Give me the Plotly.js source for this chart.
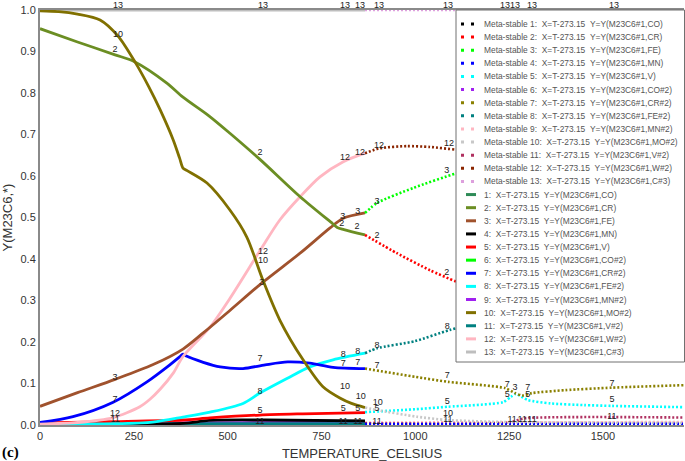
<!DOCTYPE html>
<html>
<head>
<meta charset="utf-8">
<script src="https://cdn.plot.ly/plotly-3.0.1.min.js"></script>
<style>html,body{margin:0;padding:0;background:#fff;}#chart{width:685px;height:461px;}</style>
</head>
<body>
<div id="chart"></div>
<script>
// ---------- Stable (solid) series: temperature (C) and site fraction ----------
const tCO  = [0, 400, 866];
const yCO  = [0.001, 0.002, 0.002];
const tCR  = [0, 100, 200, 253, 338, 381, 450, 506, 586, 693, 780, 792, 810, 866];
const yCR  = [0.955, 0.923, 0.892, 0.875, 0.824, 0.790, 0.745, 0.703, 0.640, 0.550, 0.485, 0.476, 0.471, 0.458];
const tFE  = [0, 100, 200, 300, 381, 435, 506, 591, 693, 773, 808, 866];
const yFE  = [0.045, 0.078, 0.110, 0.145, 0.183, 0.222, 0.276, 0.342, 0.414, 0.475, 0.498, 0.511];
const tMN  = [0, 381, 450, 600, 866];
const yMN  = [0.002, 0.004, 0.011, 0.012, 0.010];
const tV   = [0, 200, 381, 453, 586, 700, 866];
const yV   = [0.005, 0.008, 0.012, 0.017, 0.024, 0.027, 0.030];
const tCO2 = [0, 866];
const yCO2 = [0.001, 0.001];
const tCR2 = [0, 88, 195, 285, 346, 372, 381, 390, 435, 480, 541, 600, 660, 719, 781, 866];
const yCR2 = [0.006, 0.020, 0.055, 0.104, 0.145, 0.164, 0.171, 0.166, 0.151, 0.140, 0.136, 0.145, 0.152, 0.149, 0.139, 0.136];
const tFE2 = [0, 200, 300, 381, 453, 541, 586, 658, 719, 781, 866];
const yFE2 = [0.002, 0.003, 0.007, 0.019, 0.031, 0.052, 0.077, 0.112, 0.140, 0.157, 0.173];
const tMN2 = [0, 381, 866];
const yMN2 = [0.004, 0.005, 0.007];
const tMO2 = [0, 50, 100, 160, 208, 253, 290, 320, 355, 372, 381, 392, 445, 506, 551, 594, 639, 701, 754, 799, 830, 866];
const yMO2 = [0.998, 0.996, 0.990, 0.976, 0.937, 0.875, 0.815, 0.760, 0.687, 0.643, 0.619, 0.613, 0.583, 0.518, 0.453, 0.349, 0.253, 0.157, 0.092, 0.065, 0.052, 0.042];
const tV2  = [0, 866];
const yV2  = [0.003, 0.003];
const tW2  = [0, 100, 195, 266, 293, 320, 355, 381, 453, 506, 586, 639, 693, 746, 807, 866];
const yW2  = [0.002, 0.006, 0.018, 0.044, 0.062, 0.086, 0.125, 0.165, 0.236, 0.305, 0.420, 0.494, 0.550, 0.598, 0.634, 0.655];
const tC3  = [0, 866];
const yC3  = [1.0, 1.0];

// ---------- Meta-stable (dotted) series ----------
const tM1  = [866, 1716];  const yM1  = [0.004, 0.006];
const tM2  = [866, 951, 1039, 1111, 1250, 1400, 1550, 1716];
const yM2  = [0.458, 0.414, 0.373, 0.345, 0.305, 0.275, 0.255, 0.240];
const tM3  = [866, 898, 994, 1111, 1250, 1400, 1550, 1716];
const yM3  = [0.511, 0.535, 0.571, 0.607, 0.640, 0.668, 0.690, 0.708];
const tM4  = [866, 1716];  const yM4  = [0.002, 0.003];
const tM5  = [866, 1000, 1087, 1234, 1255, 1268, 1300, 1360, 1450, 1524, 1716];
const yM5  = [0.031, 0.038, 0.044, 0.055, 0.068, 0.075, 0.060, 0.052, 0.048, 0.046, 0.043];
const tM6  = [866, 1716];  const yM6  = [0.001, 0.001];
const tM7  = [866, 1000, 1087, 1239, 1265, 1285, 1311, 1400, 1524, 1716];
const yM7  = [0.136, 0.116, 0.104, 0.089, 0.077, 0.071, 0.077, 0.084, 0.090, 0.096];
const tM8  = [866, 898, 999, 1092, 1250, 1400, 1550, 1716];
const yM8  = [0.173, 0.185, 0.202, 0.229, 0.262, 0.288, 0.308, 0.325];
const tM9  = [866, 1716];  const yM9  = [0.006, 0.007];
const tM10 = [866, 898, 1004, 1084, 1250, 1716];
const yM10 = [0.042, 0.036, 0.020, 0.012, 0.007, 0.005];
const tM11 = [866, 1250, 1290, 1716];
const yM11 = [0.004, 0.006, 0.016, 0.018];
const tM12 = [866, 906, 978, 1039, 1111, 1250, 1400, 1550, 1716];
const yM12 = [0.655, 0.667, 0.672, 0.670, 0.663, 0.648, 0.632, 0.618, 0.603];
const tM13 = [866, 1716];  const yM13 = [1.0, 1.0];

// ---------- names / colours ----------
const elements = ['CO','CR','FE','MN','V','CO#2','CR#2','FE#2','MN#2','MO#2','V#2','W#2','C#3'];
const solidColors = ['#2e8b57','#6b8e23','#a0522d','#000000','#ff0000','#00ff00','#0000ff','#00ffff','#a020f0','#807000','#008080','#ffb6c1','#bebebe'];
const metaColors  = ['#000000','#ff0000','#00ff00','#0000ff','#00ffff','#a020f0','#8a8000','#008080','#ffb6c1','#c8c8c8','#b03060','#8b2500','#dda0dd'];

// ---------- curve labels ----------
const topLabelT = [208, 594, 813, 853, 903, 1087, 1239, 1266, 1311, 1529];
const topLabelText = ['13','13','13','13','13','13','13','13','13','13'];
const labelT = [
  208, 200, 586, 813, 853, 903, 1090,
  807, 804, 847, 845, 898, 898, 1084, 1084,
  594, 594, 591, 200, 200, 200, 200,
  586, 586, 586, 586,
  808, 808, 847, 847, 898, 898,
  813, 855, 900, 808, 847, 898, 808, 847, 898,
  1085, 1245, 1266, 1300, 1524, 1085, 1245, 1300, 1524,
  1087, 1087, 1258, 1285, 1311, 1524, 1085];
const labelY = [
  0.940, 0.905, 0.655, 0.643, 0.655, 0.672, 0.677,
  0.502, 0.486, 0.515, 0.477, 0.537, 0.455, 0.612, 0.367,
  0.417, 0.395, 0.342, 0.113, 0.062, 0.028, 0.012,
  0.160, 0.079, 0.035, 0.008,
  0.170, 0.148, 0.176, 0.150, 0.190, 0.142,
  0.092, 0.068, 0.053, 0.038, 0.038, 0.040, 0.008, 0.008, 0.008,
  0.118, 0.098, 0.089, 0.089, 0.100, 0.056, 0.072, 0.072, 0.062,
  0.028, 0.012, 0.012, 0.012, 0.012, 0.020, 0.236];
const labelText = [
  '10','2','2','12','12','12','12',
  '3','2','3','2','3','2','3','2',
  '12','10','3','3','7','12','11',
  '7','8','5','11',
  '8','7','8','7','8','7',
  '10','10','10','5','5','5','11','11','11',
  '7','7','3','7','7','5','5','5','5',
  '10','11','11','11','11','11','8'];

const solidT = [tCO,tCR,tFE,tMN,tV,tCO2,tCR2,tFE2,tMN2,tMO2,tV2,tW2,tC3];
const solidY = [yCO,yCR,yFE,yMN,yV,yCO2,yCR2,yFE2,yMN2,yMO2,yV2,yW2,yC3];
const metaT  = [tM1,tM2,tM3,tM4,tM5,tM6,tM7,tM8,tM9,tM10,tM11,tM12,tM13];
const metaY  = [yM1,yM2,yM3,yM4,yM5,yM6,yM7,yM8,yM9,yM10,yM11,yM12,yM13];

const labelFont = {size:9, color:'#222', family:'Liberation Sans, Arial, sans-serif'};
const traces = [];
const order = [12,0,5,8,10,3,4,7,6,11,2,1,9];
order.forEach(i => {
  traces.push({x: solidT[i], y: solidY[i], type:'scatter', mode:'lines', showlegend:false, hoverinfo:'skip',
    line:{color: solidColors[i], width: 2.8, shape:'spline', smoothing: 0.8}});
});
order.forEach(i => {
  traces.push({x: metaT[i], y: metaY[i], type:'scatter', mode:'lines', showlegend:false, hoverinfo:'skip',
    line:{color: metaColors[i], width: 2.6, dash:'2px,2px', shape:'spline', smoothing: 0.6}});
});
traces.push({x: labelT, y: labelY, text: labelText, type:'scatter', mode:'text', showlegend:false, hoverinfo:'skip',
  cliponaxis:false, textposition:'middle center', textfont: labelFont});

// ---------- legend built from annotations + shapes ----------
const L = 40, W = 644, B = 425, H = 415;
const px2x = p => (p - L) / W;
const py2y = p => (B - p) / H;
const shapes = [{type:'rect', xref:'paper', yref:'paper', x0:px2x(456), x1:px2x(684.5), y0:py2y(362), y1:py2y(10),
  fillcolor:'#ffffff', line:{color:'#707070', width:1}, layer:'above'}];
const annotations = [];
// curve labels above the top frame (label 13 on the C#3 line at 1.0)
topLabelT.forEach((t, j) => {
  annotations.push({xref:'x', yref:'paper', x:t, y:py2y(5.5), xanchor:'center', yanchor:'middle',
    text: topLabelText[j], showarrow:false, font: labelFont});
});
const nb = '\u00a0\u00a0';
for (let k = 0; k < 26; k++) {
  const meta = k < 13;
  const i = meta ? k : k - 13;
  const py = 24 + k * 13.12;
  const txt = meta
    ? `Meta-stable ${i+1}:${nb}X=T-273.15${nb}Y=Y(M23C6#1,${elements[i]})`
    : `${i+1}:${nb}X=T-273.15${nb}Y=Y(M23C6#1,${elements[i]})`;
  annotations.push({xref:'paper', yref:'paper', x:px2x(482), y:py2y(py), xanchor:'left', yanchor:'middle',
    text: txt, showarrow:false, font:{size:8.4, color:'#555', family:'Liberation Sans, Arial, sans-serif'}});
  if (meta) {
    shapes.push({type:'line', xref:'paper', yref:'paper', x0:px2x(461), x1:px2x(474), y0:py2y(py), y1:py2y(py),
      line:{color: metaColors[i], width:3, dash:'3px,7px'}, layer:'above'});
  } else {
    shapes.push({type:'line', xref:'paper', yref:'paper', x0:px2x(466), x1:px2x(476), y0:py2y(py), y1:py2y(py),
      line:{color: solidColors[i], width:3}, layer:'above'});
  }
}
annotations.push({xref:'paper', yref:'paper', x:px2x(0), y:py2y(452), xanchor:'left', yanchor:'middle',
  text:'<b>(c)</b>', showarrow:false, font:{size:15, color:'#000', family:'Liberation Serif, Times New Roman, serif'}});

const layout = {
  width:685, height:461,
  margin:{l:40, r:0.5, t:10, b:36},
  paper_bgcolor:'#fff', plot_bgcolor:'#fff',
  font:{family:'Liberation Sans, Arial, sans-serif', color:'#333'},
  showlegend:false,
  xaxis:{range:[0,1716], tickvals:[0,250,500,750,1000,1250,1500], showgrid:false, zeroline:false,
    showline:true, mirror:true, linecolor:'#8a8a8a', linewidth:2, ticks:'', tickfont:{size:11, color:'#333'},
    title:{text:'TEMPERATURE_CELSIUS', font:{size:13, color:'#333'}}},
  yaxis:{range:[0,1.0], dtick:0.1, tickformat:'.1f', showgrid:false, zeroline:false,
    showline:true, linecolor:'#8a8a8a', linewidth:2, ticks:'', tickfont:{size:11, color:'#333'},
    title:{text:'Y(M23C6,*)', font:{size:13, color:'#333'}}},
  shapes: shapes,
  annotations: annotations
};
Plotly.newPlot('chart', traces, layout, {staticPlot:true, displayModeBar:false});
</script>
</body>
</html>
